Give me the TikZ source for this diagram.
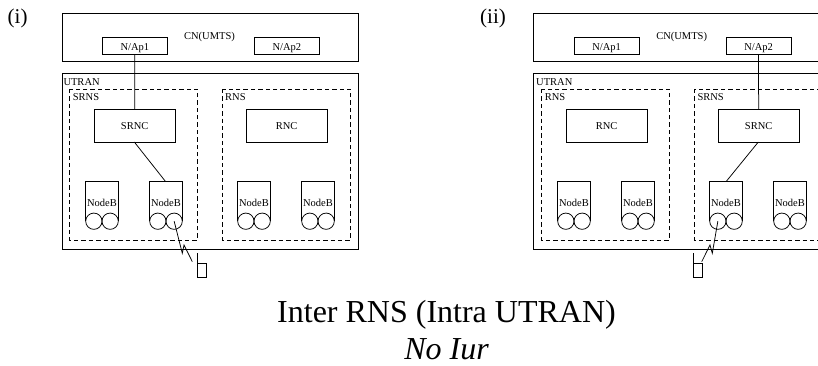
\documentclass[tikz,border=0pt]{standalone}
\usepackage{fontspec}
\setmainfont{Liberation Serif}
\tikzset{
  x=1pt,y=-1pt,
  solidbox/.style={draw,line width=0.75pt,fill=none},
  dashbox/.style={draw,line width=0.75pt,dash pattern=on 4.4pt off 3pt},
  link/.style={draw,line width=0.75pt},
  lbl/.style={inner sep=0pt,font=\fontsize{10.5}{12}\selectfont},
  side/.style={inner sep=0pt,anchor=base west,font=\fontsize{10.5}{12}\selectfont},
  box/.style={draw,line width=0.75pt,inner sep=0pt,anchor=north west,font=\fontsize{10.5}{12}\selectfont},
  apbox/.style={box,minimum width=65pt,minimum height=16.5pt,text height=10.5pt,text depth=1pt},
  dot/.style={draw,circle,line width=0.75pt,minimum size=16.3pt,inner sep=0pt},
  tag/.style={inner sep=0pt,anchor=base west,font=\fontsize{21}{24}\selectfont},
  capt/.style={inner sep=0pt,anchor=base,font=\fontsize{32}{36}\selectfont},
}
\newcommand{\nodeb}[3]{% name, x, y top
  \draw[line width=0.75pt] (#2,#3+39.5) -- (#2,#3) -- (#2+32.6,#3) -- (#2+32.6,#3+39.5);
  \node[lbl,anchor=base] at (#2+16.3,#3+24.3) {NodeB};
  \node[dot] (#1l) at (#2+8.15,#3+39.5) {};
  \node[dot] (#1r) at (#2+24.45,#3+39.5) {};
}
\begin{document}
\begin{tikzpicture}
\useasboundingbox (0,0) rectangle (818,365);
\clip (0,0) rectangle (818,365);
% (i)
\node[tag] (lbi) at (7.5,23) {(i)};
\draw[solidbox] (62,13) rectangle (358,61);
\node[lbl] (cn1) at (209.5,37.3) {CN(UMTS)};
\node[apbox] (apa) at (102,37) {N/Ap1};
\node[apbox] (apb) at (254,37) {N/Ap2};
\draw[solidbox] (62,73) rectangle (358,249);
\node[side] (u1) at (63.3,85) {UTRAN};
\draw[dashbox] (69.5,89) rectangle (197.5,240);
\draw[dashbox] (222.5,89) rectangle (350.5,240);
\node[side] (s1) at (72.7,100.7) {SRNS};
\node[side] (r1) at (225,100.7) {RNS};
\node[box,minimum width=80.5pt,minimum height=33pt] (srnc) at (94,109) {SRNC};
\node[box,minimum width=80.5pt,minimum height=33pt] (rnc) at (246,109) {RNC};
\nodeb{na}{85.7}{181.7}
\nodeb{nb}{149.7}{181.7}
\nodeb{nc}{237.7}{181.7}
\nodeb{nd}{301.7}{181.7}
\draw[link] (apa.south) -- (srnc.north);
\coordinate (nbtop) at (165.7,181.7);
\coordinate (sr1) at (134.3,142);
\draw[link] (sr1) -- (nbtop);
\coordinate (z1a) at (182.3,253.3);
\coordinate (z1b) at (184,245);
\coordinate (ph1) at (192.3,261.7);
\draw[link] (nbr.center) -- (z1a) -- (z1b) -- (ph1);
\draw[solidbox] (197.7,263.3) rectangle (206.7,277.7);
\draw[link] (197.7,263.3) -- (197.7,253.3);
% (ii)
\node[tag] (lbii) at (480,23) {(ii)};
\draw[solidbox] (533.7,13) rectangle (840,61);
\node[lbl] (cn2) at (681.7,37.3) {CN(UMTS)};
\node[apbox] (apc) at (573.7,37) {N/Ap1};
\node[apbox] (apd) at (725.7,37) {N/Ap2};
\draw[solidbox] (533.7,73) rectangle (840,249);
\node[side] (u2) at (536,85) {UTRAN};
\draw[dashbox] (541.5,89) rectangle (669.5,240);
\draw[dashbox] (694.5,89) rectangle (840,240);
\node[side] (r2) at (544.7,100.7) {RNS};
\node[side] (s2) at (697.3,100.7) {SRNS};
\node[box,minimum width=80.5pt,minimum height=33pt] (rnc2) at (566,109) {RNC};
\node[box,minimum width=80.5pt,minimum height=33pt] (srnc2) at (718,109) {SRNC};
\nodeb{ne}{557.7}{181.7}
\nodeb{nf}{621.7}{181.7}
\nodeb{ng}{709.7}{181.7}
\nodeb{nh}{773.7}{181.7}
\draw[link] (apd.south) -- (srnc2.north);
\coordinate (ngtop) at (726,181.7);
\coordinate (sr2) at (758.3,142);
\draw[link] (sr2) -- (ngtop);
\coordinate (z2a) at (712.3,253.3);
\coordinate (z2b) at (710,245);
\coordinate (ph2) at (701.7,261.7);
\draw[link] (ngl.center) -- (z2a) -- (z2b) -- (ph2);
\draw[solidbox] (693.7,263.3) rectangle (702.7,277.7);
\draw[link] (693.7,263.3) -- (693.7,253.3);
% caption
\node[capt] (cap1) at (446.5,322) {Inter RNS (Intra UTRAN)};
\node[capt,font=\fontsize{32}{36}\selectfont\itshape] (cap2) at (446.5,359) {No Iur};
\end{tikzpicture}
\end{document}
